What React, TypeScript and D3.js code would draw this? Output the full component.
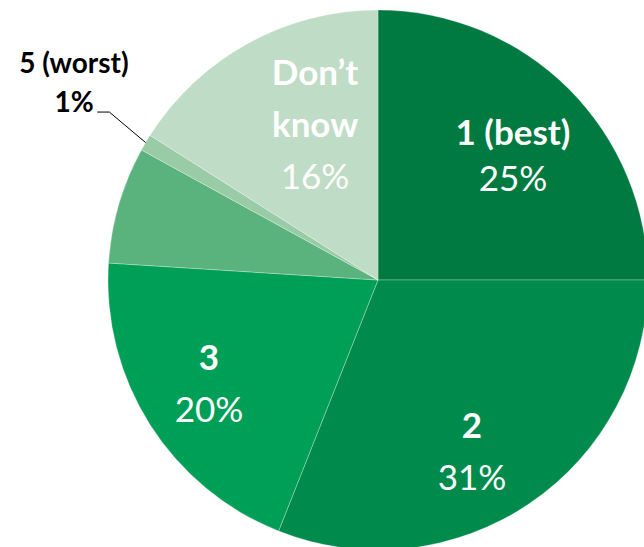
import React from "react";
import * as d3 from "d3";

const categories = ["1 (best)", "2", "3", "4", "5 (worst)", "Don\u2019t know"];
const values = [25, 31, 20, 7, 1, 16];
const percentLabels = ["25%", "31%", "20%", "", "1%", "16%"];
const colors = ["#007A41", "#008B4D", "#009F58", "#5AB27D", "#99CBA7", "#BFDCC6"];

const W = 644;
const H = 547;
const CX = 378;
const CY = 280;
const R = 270;

// label anchor: offset (in units of R) of the first baseline centre from the pie centre
const labelLayout = [
  { dx: 0.5, dy: -0.5, gap: 46, inside: true },
  { dx: 0.348, dy: 0.585, gap: 52, inside: true },
  { dx: -0.626, dy: 0.333, gap: 52, inside: true },
  null,
  { dx: -1.126, dy: -0.767, gap: 39, inside: false },
  { dx: -0.233, dy: -0.722, gap: 52, inside: true },
];

export default function App() {
  const pie = d3
    .pie<number>()
    .sort(null)
    .value((d) => d)
    .startAngle(0)
    .endAngle(2 * Math.PI);
  const arcs = pie(values);
  const arc = d3.arc<d3.PieArcDatum<number>>().innerRadius(0).outerRadius(R);

  const font = "Lato, 'Open Sans', sans-serif";

  // leader line for the small slice
  const small = arcs[4];
  const midA = (small.startAngle + small.endAngle) / 2;
  const px = Math.sin(midA) * R;
  const py = -Math.cos(midA) * R;
  const leader = d3.line()([
    [px, py],
    [-R * 0.995, -R * 0.622],
    [-R * 1.04, -R * 0.622],
  ]);

  return (
    <svg
      width={W}
      height={H}
      style={{ position: "absolute", left: 0, top: 0, background: "#fff" }}
    >
      <g transform={`translate(${CX},${CY})`}>
        {arcs.map((a, i) => (
          <path
            key={i}
            d={arc(a) || ""}
            fill={colors[i]}
            stroke="#ffffff"
            strokeOpacity={0.35}
            strokeWidth={0.8}
          />
        ))}
        <path d={leader || ""} fill="none" stroke="#000" strokeWidth={1} />
        {arcs.map((a, i) => {
          const L = labelLayout[i];
          if (!L) return null;
          const x = L.dx * R;
          const y = L.dy * R;
          const fill = L.inside ? "#ffffff" : "#000000";
          const lines = i === 5 ? ["Don\u2019t", "know"] : [categories[i]];
          const size = L.inside ? 35 : 28;
          return (
            <g key={"l" + i} fontFamily={font} textAnchor="middle" fill={fill}>
              {lines.map((t, k) => (
                <text key={k} x={x} y={y + k * L.gap} fontSize={size} fontWeight="bold">
                  {t}
                </text>
              ))}
              <text
                x={x}
                y={y + lines.length * L.gap}
                fontSize={size}
                fontWeight={L.inside ? "normal" : "bold"}
              >
                {percentLabels[i]}
              </text>
            </g>
          );
        })}
      </g>
    </svg>
  );
}
